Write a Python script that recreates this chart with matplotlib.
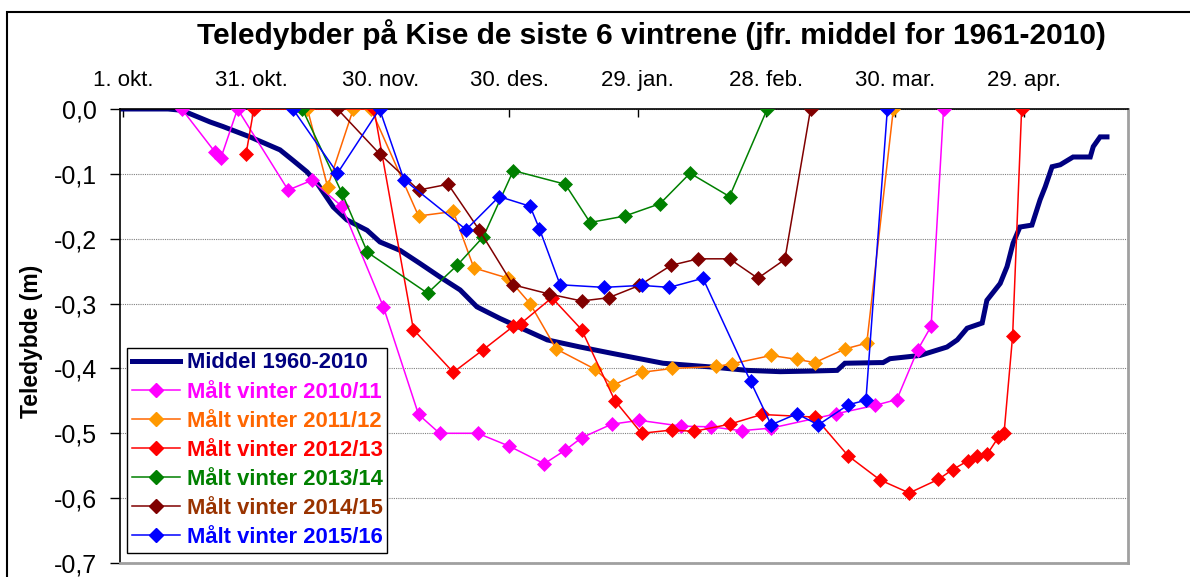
import matplotlib
matplotlib.use("Agg")
import matplotlib.pyplot as plt
from matplotlib.lines import Line2D
from matplotlib.patches import Rectangle
from matplotlib.ticker import FixedLocator, FuncFormatter

plt.rcParams['font.family'] = ['Liberation Sans', 'DejaVu Sans']

# ---------------- data (x = days after 1. okt.) ----------------
tick_days = [0, 30, 60, 90, 120, 150, 180, 210]
tick_labels = ["1. okt.", "31. okt.", "30. nov.", "30. des.", "29. jan.",
               "28. feb.", "30. mar.", "29. apr."]

mid_day = [0, 10.5, 13.7, 20.3, 23.3, 29.6, 36.6, 39.6, 42.9, 45.2, 49.0, 52.2,
           56.9, 59.9, 64.6, 69.2, 73.9, 78.6, 82.5, 87.9, 98.9, 106.6, 114.2,
           125.9, 137.6, 145.5, 153.2, 160.9, 166.5, 168.3, 176.4, 177.2, 178.8,
           185.8, 192.1, 194.5, 196.8, 200.3, 201.4, 204.5, 206.1, 207.5, 209.1,
           211.9, 213.8, 215.0, 216.6, 218.5, 221.5, 225.5, 226.2, 227.8, 229.4]
mid_val = [0, 0, -0.002, -0.020, -0.027, -0.043, -0.063, -0.079, -0.097, -0.114,
           -0.151, -0.171, -0.187, -0.205, -0.218, -0.238, -0.259, -0.279, -0.305,
           -0.323, -0.356, -0.367, -0.377, -0.392, -0.398, -0.403, -0.405, -0.404,
           -0.403, -0.392, -0.391, -0.391, -0.385, -0.380, -0.367, -0.356, -0.338,
           -0.330, -0.295, -0.269, -0.243, -0.207, -0.182, -0.179, -0.140, -0.120,
           -0.089, -0.086, -0.074, -0.074, -0.058, -0.043, -0.043]

w1011_day = [13.7, 21.4, 22.8, 26.7, 38.5, 44.0, 51.0, 60.7, 68.9, 73.8, 82.7,
             90.1, 98.2, 103.1, 106.9, 113.9, 120.4, 130.1, 137.0, 144.2, 151.1,
             166.2, 175.3, 180.4, 185.3, 188.4, 191.3]
w1011_val = [0, -0.066, -0.076, 0, -0.125, -0.110, -0.150, -0.305, -0.471, -0.500,
             -0.500, -0.520, -0.547, -0.526, -0.507, -0.486, -0.480, -0.489, -0.490,
             -0.496, -0.492, -0.470, -0.457, -0.448, -0.371, -0.335, 0]

w1112_day = [43.0, 47.7, 53.7, 57.8, 68.9, 77.0, 81.8, 89.8, 94.9, 101.0, 110.0,
             114.2, 120.9, 128.1, 138.3, 141.9, 151.1, 157.1, 161.3, 168.3, 173.4,
             179.6]
w1112_val = [0, -0.120, 0, 0, -0.165, -0.158, -0.245, -0.261, -0.300, -0.370,
             -0.401, -0.426, -0.406, -0.400, -0.397, -0.393, -0.380, -0.386, -0.391,
             -0.370, -0.361, 0]

w1213_day = [28.7, 30.5, 58.5, 67.7, 77.0, 84.0, 91.0, 92.7, 100.0, 106.9, 114.7,
             120.9, 127.9, 133.2, 141.4, 148.9, 161.3, 169.1, 176.5, 183.3, 190.1,
             193.4, 197.1, 199.2, 201.5, 204.1, 205.4, 207.4, 209.5]
w1213_val = [-0.069, 0, 0, -0.340, -0.406, -0.371, -0.335, -0.331, -0.291, -0.340,
             -0.450, -0.500, -0.495, -0.497, -0.486, -0.471, -0.475, -0.535, -0.572,
             -0.592, -0.571, -0.556, -0.542, -0.535, -0.532, -0.506, -0.500, -0.350, 0]

w1314_day = [41.8, 51.0, 57.0, 71.0, 77.9, 84.0, 91.0, 103.1, 108.9, 117.0, 125.2,
             132.2, 141.4, 150.2]
w1314_val = [0, -0.129, -0.221, -0.284, -0.241, -0.197, -0.095, -0.116, -0.175,
             -0.165, -0.146, -0.099, -0.135, 0]

w1415_day = [50.0, 59.8, 68.9, 75.8, 83.0, 90.9, 99.2, 106.9, 113.2, 120.4, 127.8,
             134.1, 141.4, 148.0, 154.3, 160.3]
w1415_val = [0, -0.069, -0.125, -0.116, -0.186, -0.271, -0.285, -0.296, -0.291,
             -0.272, -0.241, -0.231, -0.231, -0.261, -0.232, 0]

w1516_day = [39.6, 50.0, 59.8, 65.5, 80.0, 87.7, 94.9, 97.1, 101.9, 112.1, 120.9,
             127.4, 135.2, 146.3, 151.1, 157.1, 162.1, 169.1, 173.2, 178.2]
w1516_val = [0, -0.099, 0, -0.109, -0.186, -0.135, -0.150, -0.185, -0.271, -0.275,
             -0.272, -0.275, -0.261, -0.420, -0.487, -0.470, -0.487, -0.456, -0.449, 0]

y_ticks = [0.0, -0.1, -0.2, -0.3, -0.4, -0.5, -0.6, -0.7]

title = "Teledybder på Kise de siste 6 vintrene (jfr. middel for 1961-2010)"
ylabel = "Teledybde (m)"
mid_label = "Middel 1960-2010"
series = [
    ("Målt vinter 2010/11", w1011_day, w1011_val, "#FF00FF", "#FF00FF", "#FF00FF"),
    ("Målt vinter 2011/12", w1112_day, w1112_val, "#FF6600", "#FF9900", "#FF6600"),
    ("Målt vinter 2012/13", w1213_day, w1213_val, "#FF0000", "#FF0000", "#FF0000"),
    ("Målt vinter 2013/14", w1314_day, w1314_val, "#008000", "#008000", "#008000"),
    ("Målt vinter 2014/15", w1415_day, w1415_val, "#800000", "#800000", "#993300"),
    ("Målt vinter 2015/16", w1516_day, w1516_val, "#0000FF", "#0000FF", "#0000FF"),
]

# ---------------- figure ----------------
W, H = 1190, 577
fig = plt.figure(figsize=(W / 100, H / 100), dpi=100)
ax = fig.add_axes([120 / W, 1 - 563 / H, (1128 - 120) / W, (563 - 109) / H])

ax.plot(mid_day, mid_val, color="#000080", lw=3.6, solid_joinstyle="miter",
        zorder=2, label=mid_label)
handles = [Line2D([], [], color="#000080", lw=3.6)]
labels = [mid_label]
text_colors = ["#000080"]
for i, (lab, d, v, lc, mc, tc) in enumerate(series):
    ax.plot(d, v, color=lc, lw=1.1, marker="D", markersize=6.8,
            markerfacecolor=mc, markeredgecolor=mc, markeredgewidth=0.5,
            zorder=3 + i)
    handles.append(Line2D([], [], color=lc, lw=1.1, marker="D", markersize=6.8,
                          markerfacecolor=mc, markeredgecolor=mc))
    labels.append(lab)
    text_colors.append(tc)

ax.set_xlim(-0.7, 234.3)
ax.set_ylim(-0.7, 0.0)

ax.xaxis.tick_top()
ax.xaxis.set_major_locator(FixedLocator(tick_days))
ax.set_xticklabels(tick_labels)
ax.tick_params(axis="x", direction="in", length=6, width=1, pad=13,
               labelsize=16, colors="black")
ax.yaxis.set_major_locator(FixedLocator(y_ticks))
ax.yaxis.set_major_formatter(FuncFormatter(
    lambda v, p: ("%.1f" % v).replace(".", ",").replace("-0,0", "0,0")))
ax.tick_params(axis="y", direction="out", length=7, width=1, pad=9.5,
               labelsize=18)

ax.grid(axis="y", color="#808080", linestyle=(0, (1, 1)), linewidth=0.8)
ax.set_axisbelow(True)

for s in ("left", "top"):
    ax.spines[s].set_color("black")
    ax.spines[s].set_linewidth(1.2)
for s in ("right", "bottom"):
    ax.spines[s].set_color("#A0A0A0")
    ax.spines[s].set_linewidth(2.0)

ax.set_ylabel(ylabel, fontsize=16.5, fontweight="bold")
ax.yaxis.set_label_coords(-(120 - 32) / 1008, (563 - 341) / 454)
ax.yaxis.label.set_va("center")

leg = ax.legend(handles, labels, loc="lower left",
                bbox_to_anchor=(7 / 1008, 10 / 454), borderaxespad=0,
                frameon=True, fancybox=False, framealpha=1, edgecolor="black",
                prop={"size": 15.8, "weight": "bold"}, handlelength=2.2,
                handletextpad=0.3, labelspacing=0.37, borderpad=0.22)
leg.get_frame().set_linewidth(1.0)
for t, c in zip(leg.get_texts(), text_colors):
    t.set_color(c)
leg.set_zorder(20)

fig.text(651 / W, 1 - 44.5 / H, title, ha="center", va="baseline",
         fontsize=21.5, fontweight="bold")

fig.add_artist(Rectangle((7 / W, -0.1), 1.2, 1 - 12 / H + 0.1,
                         transform=fig.transFigure, fill=False,
                         edgecolor="black", linewidth=1.5))

fig.savefig("out.png", dpi=100)
